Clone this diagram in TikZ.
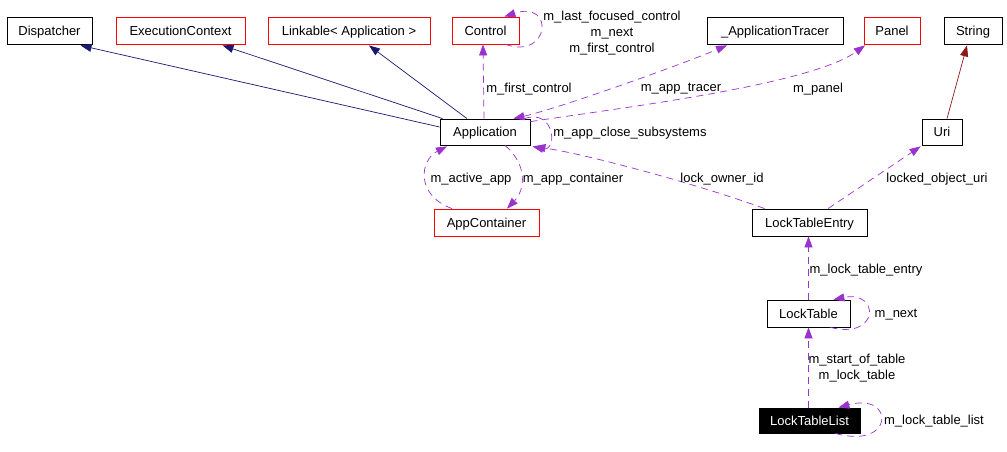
\documentclass[tikz,border=0pt]{standalone}
\usepackage{fontspec}
\setmainfont{Liberation Sans}
\usetikzlibrary{arrows.meta,calc}
\definecolor{navyc}{HTML}{191970}
\definecolor{orchid}{HTML}{9A32CD}
\definecolor{brickc}{HTML}{8B1A1A}
\begin{document}
\begin{tikzpicture}[x=1pt,y=-1pt,
  every node/.style={font=\fontsize{13}{16}\selectfont},
  cls/.style={draw=black, line width=0.8pt, inner sep=0pt, minimum height=27pt, text height=9.4pt, text depth=0pt},
  redcls/.style={cls, draw=red},
  curcls/.style={cls, fill=black, text=white, minimum height=25pt},
  inh/.style={navyc, line width=0.7pt, -{Triangle[length=11pt,width=8pt]}},
  inhred/.style={brickc, line width=0.7pt, -{Triangle[length=11pt,width=8pt]}},
  use/.style={orchid, line width=0.7pt, dash pattern=on 7pt off 5pt, -{Triangle[length=11pt,width=8pt]}},
  useboth/.style={orchid, line width=0.7pt, dash pattern=on 7pt off 5pt, {Triangle[length=11pt,width=8pt]}-{Triangle[length=11pt,width=8pt]}},
  lbl/.style={inner sep=0pt, align=center, yshift=-2pt}
]
\useasboundingbox (0,0) rectangle (1007,452);
\fill[white] (0,0) rectangle (1007,452);

% classes
\node[cls, minimum width=85pt]    (Dispatcher) at (49.5,30.5) {Dispatcher};
\node[redcls, minimum width=129pt] (ExecCtx)   at (180.5,30.5) {ExecutionContext};
\node[redcls, minimum width=162pt] (Linkable)  at (349,30.5) {Linkable< Application >};
\node[redcls, minimum width=67pt]  (Control)   at (485.5,30.5) {Control};
\node[cls, minimum width=136pt]    (Tracer)    at (775,30.5) {\_ApplicationTracer};
\node[redcls, minimum width=56pt]  (Panel)     at (892,30.5) {Panel};
\node[cls, minimum width=58pt]     (String)    at (973,30.5) {String};
\node[cls, minimum width=90pt, minimum height=26pt] (Application) at (485,132) {Application};
\node[cls, minimum width=40pt, minimum height=26pt] (Uri) at (942,132) {Uri};
\node[redcls, minimum width=105pt] (AppContainer) at (486.5,222.5) {AppContainer};
\node[cls, minimum width=115pt]    (Entry)     at (809.5,222.5) {LockTableEntry};
\node[cls, minimum width=83pt]     (LockTable) at (808.5,313.5) {LockTable};
\node[curcls, minimum width=101pt] (List)      at (809.5,420.5) {LockTableList};

% inheritance
\draw[inh] ($(Application.west)+(0,-5)$) -- ($(Dispatcher.south)+(31,1)$);
\draw[inh] ($(Application.north west)+(3,0)$) -- ($(ExecCtx.south)+(42,1)$);
\draw[inh] ($(Application.north)+(-18,0)$) -- ($(Linkable.south)+(20,1)$);
\draw[inhred] ($(Uri.north)+(5,0)$) -- ($(String.south)+(-6,1)$);

% usage
\draw[use] ($(Application.north)+(-1,0)$) -- ($(Control.south)+(-2.5,0)$);
\node[lbl] (lfc) at (529,87) {m\_first\_control};

\draw[use] ($(Control.south east)+(-14,0)$) .. controls (550,60) and (555,0) .. ($(Control.north east)+(-15,0)$);
\node[lbl] (lctrl) at (612,31) {m\_last\_focused\_control\\m\_next\\m\_first\_control};

\draw[useboth] ($(Application.north east)+(-17,0)$) .. controls (560,108) and (680,65) .. ($(Tracer.south)+(-48,1)$);
\node[lbl] (ltr) at (681,87) {m\_app\_tracer};

\draw[use] ($(Application.north east)+(0,3)$) .. controls (620,108) and (810,85) .. ($(Panel.south)+(-27,1)$);
\node[lbl] (lpan) at (818,87) {m\_panel};

\draw[use] ($(Application.north east)+(-6,0)$) .. controls (555,108) and (558,152) .. ($(Application.south east)+(2,1)$);
\node[lbl] (lclose) at (630,131.5) {m\_app\_close\_subsystems};

\draw[use] ($(Entry.north west)+(13,0)$) .. controls (700,185) and (590,155) .. ($(Application.south east)+(4,1)$);
\node[lbl] (lown) at (722,177) {lock\_owner\_id};

\draw[use] ($(AppContainer.north)+(-34.5,0)$) .. controls (415,195) and (420,160) .. ($(Application.south)+(-38,1)$);
\node[lbl] (lact) at (471,177) {m\_active\_app};

\draw[use] ($(Application.south)+(20,0)$) .. controls (528,165) and (525,190) .. ($(AppContainer.north)+(20.5,0)$);
\node[lbl] (lcont) at (573,177) {m\_app\_container};

\draw[use] ($(Entry.north)+(18.5,0)$) -- ($(Uri.south west)+(-1,1)$);
\node[lbl] (luri) at (937,177) {locked\_object\_uri};

\draw[use] (LockTable.north) -- (LockTable.north |- Entry.south);
\node[lbl] (lent) at (866,268) {m\_lock\_table\_entry};

\draw[use] ($(LockTable.south east)+(-20,0)$) .. controls (880,340) and (880,290) .. ($(LockTable.north east)+(-17,0)$);
\node[lbl] (lnext) at (896,313) {m\_next};

\draw[use] (LockTable.south |- List.north) -- (LockTable.south);
\node[lbl] (lstart) at (857,366) {m\_start\_of\_table\\m\_lock\_table};

\draw[use] ($(List.south east)+(-25,0)$) .. controls (895,450) and (895,392) .. ($(List.north east)+(-22,0)$);
\node[lbl] (llist) at (934,419) {m\_lock\_table\_list};
\end{tikzpicture}
\end{document}
